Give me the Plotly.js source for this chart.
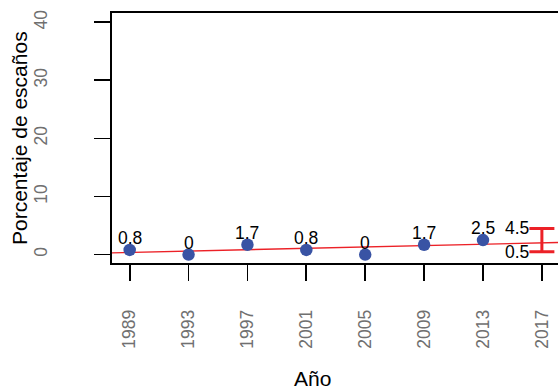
<!DOCTYPE html>
<html>
<head>
<meta charset="utf-8">
<script src="https://cdn.plot.ly/plotly-3.0.1.min.js"></script>
<style>
html, body { margin: 0; padding: 0; overflow: hidden; background: #fff; }
#chart { width: 600px; height: 390px; }
</style>
</head>
<body>
<div id="chart"></div>
<script>
// Data
const years = [1989, 1993, 1997, 2001, 2005, 2009, 2013];
const seatPct = [0.8, 0, 1.7, 0.8, 0, 1.7, 2.5];
const seatLabels = ["0.8", "0", "1.7", "0.8", "0", "1.7", "2.5"];
const xTicks = [1989, 1993, 1997, 2001, 2005, 2009, 2013, 2017];
const yTicks = [0, 10, 20, 30, 40];
const trendX = [1987.8, 2020.2];
const trendY = [0.3, 2.2];
const ciYear = [2017];
const ciLow = [0.5];
const ciHigh = [4.5];

const RED = '#ec2127';
const BLUE = '#3953a4';
const FONT = 'Liberation Sans, Arial, sans-serif';

const ciMid = ciLow.map((lo, i) => (lo + ciHigh[i]) / 2);

const traces = [
  {
    x: trendX, y: trendY, mode: 'lines', type: 'scatter',
    line: { color: RED, width: 1.4 }, hoverinfo: 'skip', showlegend: false
  },
  {
    x: years, y: seatPct, mode: 'markers', type: 'scatter',
    marker: { color: BLUE, size: 12.5 }, showlegend: false, cliponaxis: false
  },
  {
    x: ciYear, y: ciMid, mode: 'markers', type: 'scatter',
    marker: { size: 1, opacity: 0 }, showlegend: false,
    error_y: {
      type: 'data', symmetric: false,
      array: ciHigh.map((h, i) => h - ciMid[i]),
      arrayminus: ciLow.map((l, i) => ciMid[i] - l),
      color: RED, thickness: 3, width: 12.5
    }
  }
];

const annotations = [];
years.forEach((yr, i) => {
  annotations.push({
    x: yr, y: seatPct[i], xref: 'x', yref: 'y', text: seatLabels[i],
    showarrow: false, yanchor: 'middle', yshift: 12,
    font: { family: FONT, size: 17.5, color: '#000' }
  });
});
ciYear.forEach((yr, i) => {
  annotations.push({
    x: yr, y: ciHigh[i], xref: 'x', yref: 'y', text: String(ciHigh[i]),
    showarrow: false, xanchor: 'right', yanchor: 'middle', xshift: -11,
    font: { family: FONT, size: 17.5, color: '#000' }
  });
  annotations.push({
    x: yr, y: ciLow[i], xref: 'x', yref: 'y', text: String(ciLow[i]),
    showarrow: false, xanchor: 'right', yanchor: 'middle', xshift: -11,
    font: { family: FONT, size: 17.5, color: '#000' }
  });
});
annotations.push({
  x: 0.421, y: -0.462, xref: 'paper', yref: 'paper', text: 'Año',
  showarrow: false, xanchor: 'center', yanchor: 'middle',
  font: { family: FONT, size: 21, color: '#000' }
});
annotations.push({
  x: -0.195, y: 0.5, xref: 'paper', yref: 'paper', text: 'Porcentaje de escaños',
  showarrow: false, xanchor: 'center', yanchor: 'middle', textangle: -90,
  font: { family: FONT, size: 21, color: '#000' }
});

const layout = {
  width: 600, height: 390,
  margin: { l: 112, r: 11, t: 13, b: 127 },
  paper_bgcolor: '#fff', plot_bgcolor: '#fff',
  showlegend: false,
  font: { family: FONT },
  xaxis: {
    range: [1987.8, 2020.2],
    tickvals: xTicks, ticktext: xTicks.map(String),
    tickangle: -90, ticks: 'outside', ticklen: 16, tickwidth: 1.8, tickcolor: '#000',
    ticklabelstandoff: 22,
    showline: true, mirror: true, linecolor: '#000', linewidth: 1.8,
    showgrid: false, zeroline: false,
    tickfont: { family: FONT, size: 17.5, color: '#707070' }
  },
  yaxis: {
    range: [-1.45, 41.6],
    tickvals: yTicks, ticktext: yTicks.map(String),
    tickangle: -90, ticks: 'outside', ticklen: 16, tickwidth: 1.8, tickcolor: '#000',
    ticklabelstandoff: 40,
    showline: true, mirror: true, linecolor: '#000', linewidth: 1.8,
    showgrid: false, zeroline: false,
    tickfont: { family: FONT, size: 17.5, color: '#707070' }
  },
  annotations: annotations
};

Plotly.newPlot('chart', traces, layout, { staticPlot: true, displayModeBar: false });
</script>
</body>
</html>
